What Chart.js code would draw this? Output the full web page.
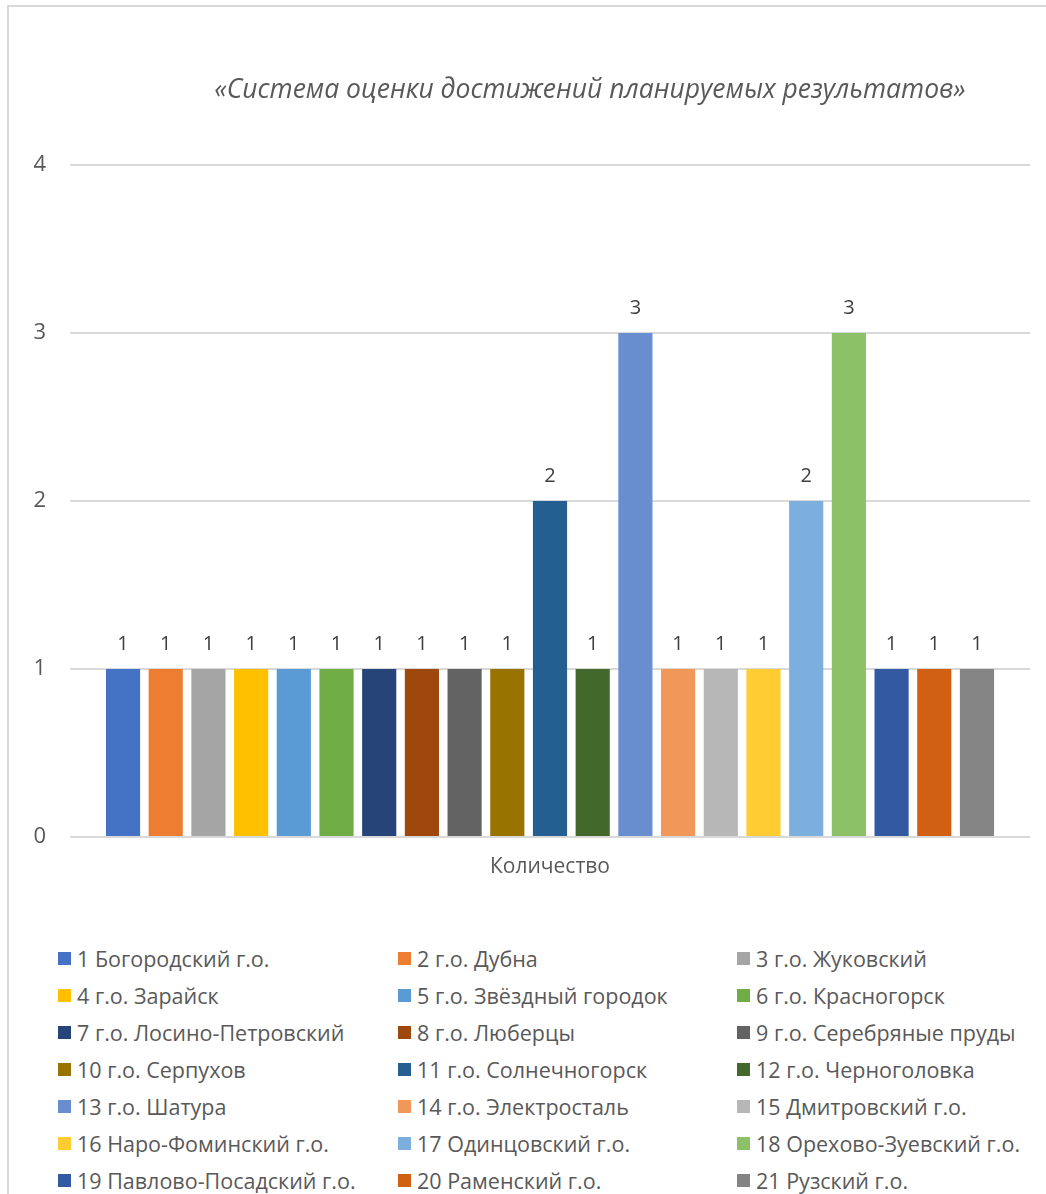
<!DOCTYPE html>
<html><head><meta charset="utf-8">
<script src="https://cdn.jsdelivr.net/npm/chart.js@4"></script>
<style>
html,body{margin:0;padding:0;background:#fff;}
#frame{position:absolute;left:7px;top:5px;width:1100px;height:1300px;border-left:2px solid #d9d9d9;border-top:2px solid #d9d9d9;}
#wrap{position:absolute;left:0;top:0;width:1046px;height:900px;}
#legend{position:absolute;left:0;top:0;width:1046px;}
.li{position:absolute;height:26px;display:flex;align-items:center;font:21.5px 'Open Sans',sans-serif;color:#595959;white-space:nowrap;}
.sw{width:13px;height:13px;margin-right:6px;flex:none;}
</style></head><body>
<div id="frame"></div>
<div id="wrap"><canvas id="c" width="1046" height="900"></canvas></div>
<div id="legend"></div>
<script>
const chartTitle = '«Система оценки достижений планируемых результатов»';
const categories = ['Количество'];
const seriesNames = [
  '1 Богородский г.о.', '2 г.о. Дубна', '3 г.о. Жуковский',
  '4 г.о. Зарайск', '5 г.о. Звёздный городок', '6 г.о. Красногорск',
  '7 г.о. Лосино-Петровский', '8 г.о. Люберцы', '9 г.о. Серебряные пруды',
  '10 г.о. Серпухов', '11 г.о. Солнечногорск', '12 г.о. Черноголовка',
  '13 г.о. Шатура', '14 г.о. Электросталь', '15 Дмитровский г.о.',
  '16 Наро-Фоминский г.о.', '17 Одинцовский г.о.', '18 Орехово-Зуевский г.о.',
  '19 Павлово-Посадский г.о.', '20 Раменский г.о.', '21 Рузский г.о.'
];
const seriesValues = [1,1,1,1,1,1,1,1,1,1,2,1,3,1,1,1,2,3,1,1,1];
const seriesColors = [
  '#4472C4','#ED7D31','#A5A5A5','#FFC000','#5B9BD5','#70AD47',
  '#264478','#9E480E','#636363','#997300','#255E91','#43682B',
  '#698ED0','#F1975A','#B7B7B7','#FFCD33','#7CAFDD','#8CC168',
  '#335AA1','#D26012','#848484'
];
const yTicks = [0,1,2,3,4];

const datasets = seriesNames.map((n,i)=>({
  label:n, data:[seriesValues[i]], backgroundColor:seriesColors[i],
  borderWidth:0, barPercentage:0.8, categoryPercentage:0.934
}));

const labelPlugin = {
  id:'vals',
  afterDatasetsDraw(chart){
    const ctx = chart.ctx;
    ctx.save();
    ctx.font = '20px "Open Sans", sans-serif';
    ctx.fillStyle = '#404040';
    ctx.textAlign = 'center';
    ctx.textBaseline = 'alphabetic';
    chart.data.datasets.forEach((ds,i)=>{
      chart.getDatasetMeta(i).data.forEach((el,j)=>{
        ctx.fillText(String(ds.data[j]), el.x, el.y - 19);
      });
    });
    ctx.restore();
  }
};
const titlePlugin = {
  id:'ttl',
  afterDraw(chart){
    const ctx = chart.ctx;
    ctx.save();
    ctx.font = 'italic 26.5px "Open Sans", sans-serif';
    ctx.fillStyle = '#595959';
    ctx.textAlign = 'center';
    ctx.textBaseline = 'middle';
    ctx.fillText(chartTitle, 590, 90);
    ctx.restore();
  }
};

const chart = new Chart(document.getElementById('c'), {
  type:'bar',
  data:{labels:categories, datasets},
  options:{
    responsive:false, animation:false,
    layout:{padding:{left:0,right:16,top:165,bottom:0}},
    plugins:{legend:{display:false}, title:{display:false}, tooltip:{enabled:false}},
    scales:{
      x:{
        grid:{display:false, drawTicks:false}, border:{display:false},
        ticks:{color:'#595959', font:{family:'Open Sans', size:21}, padding:17},
        afterFit(s){ s.height = 63; }
      },
      y:{
        min:0, max:4,
        afterBuildTicks(s){ s.ticks = yTicks.map(v=>({value:v})); },
        grid:{color:'#d9d9d9', lineWidth:2, drawTicks:false}, border:{display:false},
        ticks:{color:'#595959', font:{family:'Open Sans', size:22}, padding:24},
        afterFit(s){ s.width = 70; }
      }
    }
  },
  plugins:[labelPlugin, titlePlugin]
});

const lg = document.getElementById('legend');
const colX = [58, 398, 737];
seriesNames.forEach((n,i)=>{
  const d = document.createElement('div');
  d.className = 'li';
  d.style.left = colX[i%3] + 'px';
  d.style.top = (959 + Math.floor(i/3)*37 - 14) + 'px';
  const s = document.createElement('span');
  s.className = 'sw';
  s.style.background = seriesColors[i];
  d.appendChild(s);
  d.appendChild(document.createTextNode(n));
  lg.appendChild(d);
});
</script>
</body></html>
